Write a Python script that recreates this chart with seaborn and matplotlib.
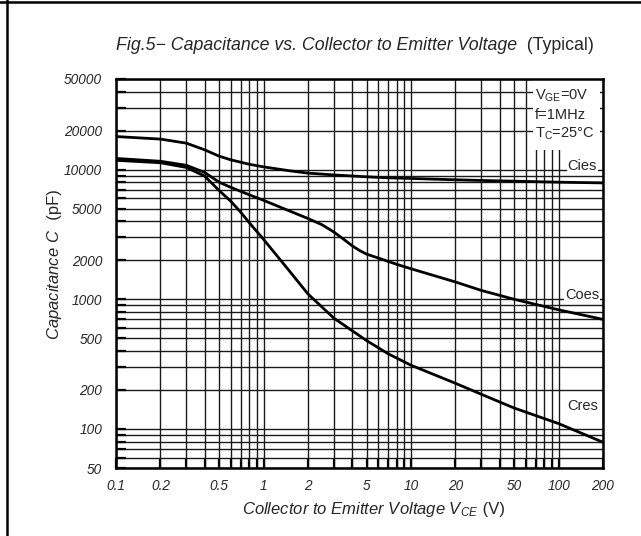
import matplotlib
matplotlib.use("Agg")
import matplotlib.pyplot as plt
import matplotlib.ticker as mticker
from matplotlib.lines import Line2D
from matplotlib.patches import Rectangle
import pandas as pd
import seaborn as sns

# --- values ---
vce_cies = [0.1, 0.2, 0.3, 0.4, 0.5, 0.6, 0.8, 1, 1.5, 2, 3, 5, 7, 10, 20, 30, 50, 100, 200]
cies = [18000, 17200, 16000, 14200, 12700, 11900, 11000, 10500, 9800, 9400, 9100,
        8800, 8650, 8550, 8350, 8250, 8150, 8000, 7900]

vce_coes = [0.1, 0.2, 0.3, 0.4, 0.5, 0.6, 0.8, 1, 1.5, 2, 2.5, 3, 3.5, 4, 4.5, 5, 6, 7, 8,
            10, 20, 30, 50, 100, 200]
coes = [12200, 11600, 10800, 9500, 8000, 7300, 6400, 5800, 4800, 4200, 3750, 3300,
        2900, 2580, 2370, 2230, 2080, 1960, 1860, 1720, 1360, 1170, 1000, 830, 700]

vce_cres = [0.1, 0.2, 0.3, 0.4, 0.5, 0.6, 0.7, 0.8, 1, 1.5, 2, 3, 5, 7, 10, 20, 30, 50, 100, 200]
cres = [11800, 11300, 10400, 8900, 6900, 5700, 4700, 3900, 2900, 1650, 1100, 715,
        480, 380, 310, 225, 185, 145, 110, 79]

x_labeled = [0.1, 0.2, 0.5, 1, 2, 5, 10, 20, 50, 100, 200]
x_tick_text = ["0.1", "0.2", "0.5", "1", "2", "5", "10", "20", "50", "100", "200"]
x_other = [0.3, 0.4, 0.6, 0.7, 0.8, 0.9, 3, 4, 6, 7, 8, 9, 30, 40, 60, 70, 80, 90]

y_labeled = [50, 100, 200, 500, 1000, 2000, 5000, 10000, 20000, 50000]
y_tick_text = ["50", "100", "200", "500", "1000", "2000", "5000", "10000", "20000", "50000"]
y_other = [60, 70, 80, 90, 300, 400, 600, 700, 800, 900, 3000, 4000, 6000, 7000,
           8000, 9000, 30000, 40000]

df = pd.concat([
    pd.DataFrame({"Vce": vce_cies, "C": cies, "curve": "Cies"}),
    pd.DataFrame({"Vce": vce_coes, "C": coes, "curve": "Coes"}),
    pd.DataFrame({"Vce": vce_cres, "C": cres, "curve": "Cres"}),
])

sns.set_style("ticks")
plt.rcParams["font.family"] = ["Liberation Sans", "DejaVu Sans"]
plt.rcParams["mathtext.fontset"] = "custom"
plt.rcParams["mathtext.it"] = "Liberation Sans:italic"
plt.rcParams["mathtext.rm"] = "Liberation Sans"

fig = plt.figure(figsize=(6.41, 5.36), dpi=100)
ax = fig.add_axes([116 / 641, 1 - 468 / 536, 487 / 641, 389 / 536])
ax.set_axisbelow(True)

sns.lineplot(data=df, x="Vce", y="C", hue="curve", units="curve", estimator=None,
             palette=["black"] * 3, sort=False, legend=False, linewidth=2.0,
             ax=ax, zorder=4)

ax.set_xscale("log")
ax.set_yscale("log")
ax.set_xlim(0.1, 200)
ax.set_ylim(50, 50000)

ax.xaxis.set_major_locator(mticker.FixedLocator(x_labeled))
ax.xaxis.set_major_formatter(mticker.FixedFormatter(x_tick_text))
ax.xaxis.set_minor_locator(mticker.FixedLocator(x_other))
ax.xaxis.set_minor_formatter(mticker.NullFormatter())
ax.yaxis.set_major_locator(mticker.FixedLocator(y_labeled))
ax.yaxis.set_major_formatter(mticker.FixedFormatter(y_tick_text))
ax.yaxis.set_minor_locator(mticker.FixedLocator(y_other))
ax.yaxis.set_minor_formatter(mticker.NullFormatter())

ax.grid(True, which="both", color="#1a1a1a", linewidth=1.0)
ax.tick_params(which="both", direction="in", length=7, width=1.6, color="black")
ax.tick_params(axis="x", which="both", top=False, pad=8)
ax.tick_params(axis="y", which="both", right=False, pad=10)
for lab in ax.get_xticklabels() + ax.get_yticklabels():
    lab.set_fontstyle("italic")
    lab.set_fontsize(9.8)
for sp in ax.spines.values():
    sp.set_linewidth(1.8)
    sp.set_color("black")
    sp.set_zorder(6)

ax.set_xlabel("")
ax.set_ylabel("")

# white panel for the test conditions (leave a sliver so right-edge ticks show)
ax.add_patch(Rectangle((0.857, 0.8175), 0.136, 0.1825, transform=ax.transAxes,
                       facecolor="white", edgecolor="none", zorder=2))
cond = ["$\\mathrm{V_{GE}}$=0V", "f=1MHz", "T$\\mathrm{_C}$=25°C"]
for i, s in enumerate(cond):
    ax.text(0.861, 0.956 - i * 0.049, s, transform=ax.transAxes, fontsize=10.5,
            va="center", ha="left", zorder=3)

box = dict(facecolor="white", edgecolor="none", pad=0.6)
ax.text(145, 10000, "Cies", fontsize=10.5, ha="center", va="baseline", bbox=box, zorder=3)
ax.text(145, 1000, "Coes", fontsize=10.5, ha="center", va="baseline", bbox=box, zorder=3)
ax.text(145, 150, "Cres", fontsize=10.5, ha="center", va="center", zorder=3)

# title and axis labels: italic part, then upright unit part on the same baseline
fig.text(517 / 641, 1 - 50.5 / 536, "Fig.5− Capacitance vs. Collector to Emitter Voltage",
         fontsize=12.8, fontstyle="italic", ha="right", va="baseline")
fig.text(517 / 641, 1 - 50.5 / 536, "  (Typical)", fontsize=12.8,
         ha="left", va="baseline")

fig.text(478 / 641, 1 - 514 / 536, "Collector to Emitter Voltage $V_{CE}$",
         fontsize=12, fontstyle="italic", ha="right", va="baseline")
fig.text(478 / 641, 1 - 514 / 536, " (V)", fontsize=12, ha="left", va="baseline")

fig.text(59 / 641, 1 - 229 / 536, "Capacitance $C$", fontsize=12, fontstyle="italic",
         rotation=90, rotation_mode="anchor", ha="right", va="baseline")
fig.text(59 / 641, 1 - 229 / 536, "  (pF)", fontsize=12,
         rotation=90, rotation_mode="anchor", ha="left", va="baseline")

# outer table frame
fig.add_artist(Line2D([0, 1], [1 - 2 / 536, 1 - 2 / 536], color="black", linewidth=1.8))
fig.add_artist(Line2D([7 / 641, 7 / 641], [0, 1], color="black", linewidth=1.8))

fig.savefig("out.png", dpi=100)
